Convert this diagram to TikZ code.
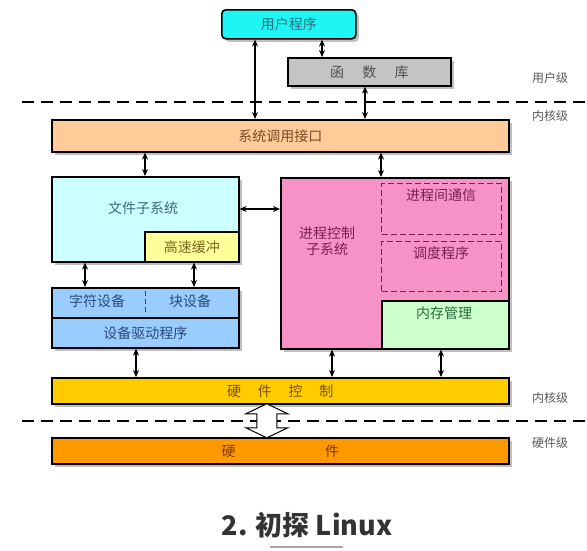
\documentclass[tikz,border=0pt]{standalone}
\usepackage{fontspec}
\setmainfont{Noto Sans CJK SC}
\usepackage{xcolor}
\usetikzlibrary{arrows.meta,shadows,calc}
\definecolor{usercol}{HTML}{1EF5F5}
\definecolor{usertxt}{HTML}{2F6F80}
\definecolor{libcol}{HTML}{C4C4C4}
\definecolor{libtxt}{HTML}{505050}
\definecolor{syscol}{HTML}{FFCC99}
\definecolor{systxt}{HTML}{7A4A2A}
\definecolor{fscol}{HTML}{CCFFFF}
\definecolor{fstxt}{HTML}{3A6A78}
\definecolor{cachecol}{HTML}{FFFF99}
\definecolor{cachetxt}{HTML}{7A6A20}
\definecolor{devcol}{HTML}{99CCFF}
\definecolor{devtxt}{HTML}{2A4A7A}
\definecolor{proccol}{HTML}{F792C6}
\definecolor{proctxt}{HTML}{7A2050}
\definecolor{memcol}{HTML}{CCFFCC}
\definecolor{memtxt}{HTML}{2A6A3A}
\definecolor{hwccol}{HTML}{FFCC00}
\definecolor{hwctxt}{HTML}{7A5000}
\definecolor{hwcol}{HTML}{FF9900}
\definecolor{hwtxt}{HTML}{7A3A00}

\begin{document}
\begin{tikzpicture}[x=1pt, y=-1pt,
  font=\fontsize{14}{16}\selectfont,
  box/.style={draw, line width=1.6pt, inner sep=0pt, anchor=north west},
  shad/.style={drop shadow={shadow xshift=3pt, shadow yshift=-3pt, fill=black!25, opacity=1}},
  sub/.style={draw, line width=1.4pt, dash pattern=on 6pt off 3pt, inner sep=0pt, anchor=north west},
  arr/.style={{Stealth[length=7pt,width=6pt]}-{Stealth[length=7pt,width=6pt]}, line width=1.1pt},
  sep/.style={line width=1.8pt, dash pattern=on 12pt off 7pt},
  lvl/.style={text=black!65, font=\fontsize{12}{14}\selectfont}]
\useasboundingbox (0,0) rectangle (587,550);
% level separators
\draw[sep] (22,102) -- (587,102);
\draw[sep] (22,421) -- (587,421);
\node[lvl] (lvuser) at (550,78) {用户级};
\node[lvl] (lvkern) at (550,116) {内核级};
\node[lvl] (lvkernb) at (550,398) {内核级};
\node[lvl] (lvhw) at (550,443) {硬件级};
% user space
\node[box, shad, rounded corners=4pt, fill=usercol, text=usertxt, minimum width=134, minimum height=29] (user) at (221,9) {用户程序};
\node[box, shad, fill=libcol, text=libtxt, minimum width=163, minimum height=28] (lib) at (287,57) {函\hspace{1.3em}数\hspace{1.3em}库};
% kernel
\node[box, shad, fill=syscol, text=systxt, minimum width=457, minimum height=32] (sys) at (51,119) {系统调用接口};
\node[box, shad, fill=fscol, minimum width=187, minimum height=85] (fs) at (51,176) {};
\node[text=fstxt] (fslbl) at (143,208) {文件子系统};
\node[box, fill=cachecol, text=cachetxt, minimum width=94, minimum height=30] (cache) at (144,231) {高速缓冲};
\node[box, shad, fill=devcol, minimum width=187, minimum height=30] (dev) at (51,287) {};
\node[box, shad, fill=devcol, text=devtxt, minimum width=187, minimum height=30] (drv) at (51,317) {设备驱动程序};
\draw[line width=1.4pt, dash pattern=on 5pt off 3pt, devtxt] ($(dev.north)+(0,4)$) -- ($(dev.south)+(0,-4)$);
\node[text=devtxt] (chr) at (97,301) {字符设备};
\node[text=devtxt] (blk) at (190,301) {块设备};
\node[box, shad, fill=proccol, minimum width=228, minimum height=171] (proc) at (280,177) {};
\node[text=proctxt, align=center] (proclbl) at (327,241) {进程控制\\子系统};
\node[sub, proctxt, minimum width=120, minimum height=51] (ipc) at (381,183) {};
\node[text=proctxt] (ipclbl) at (441,195) {进程间通信};
\node[sub, proctxt, minimum width=120, minimum height=50] (sched) at (381,241) {};
\node[text=proctxt] (schedlbl) at (441,253) {调度程序};
\node[box, fill=memcol, minimum width=127, minimum height=48] (mem) at (381,300) {};
\node[text=memtxt] (memlbl) at (444,313) {内存管理};
\node[box, shad, fill=hwccol, text=hwctxt, minimum width=457, minimum height=26] (hwctl) at (51,377) {硬\hspace{1.2em}件\hspace{1.2em}控\hspace{1.2em}制};
% hardware
\node[box, shad, fill=hwcol, text=hwtxt, minimum width=457, minimum height=26] (hw) at (51,437) {硬\hspace{6.4em}件};
% arrow columns
\coordinate (ua) at (255,0);
\coordinate (ub) at (322,0);
\coordinate (uc) at (365,0);
\coordinate (fa) at (145,0);
\coordinate (pa) at (381,0);
\coordinate (da) at (85,0);
\coordinate (db) at (194,0);
\coordinate (ha) at (136,0);
\coordinate (hb) at (332,0);
\coordinate (hc) at (441,0);
\coordinate (ra) at (0,209);
\draw[arr] (user.south -| ua) -- (sys.north -| ua);
\draw[arr] (user.south -| ub) -- (lib.north -| ub);
\draw[arr] (lib.south -| uc) -- (sys.north -| uc);
\draw[arr] (sys.south -| fa) -- (fs.north -| fa);
\draw[arr] (sys.south -| pa) -- (proc.north -| pa);
\draw[arr] (fs.east |- ra) -- (proc.west |- ra);
\draw[arr] (fs.south -| da) -- (dev.north -| da);
\draw[arr] (cache.south -| db) -- (dev.north -| db);
\draw[arr] (drv.south -| ha) -- (hwctl.north -| ha);
\draw[arr] (proc.south -| hb) -- (hwctl.north -| hb);
\draw[arr] (mem.south -| hc) -- (hwctl.north -| hc);
% hollow double arrow
\coordinate (mid) at ($(hwctl.south)!0.5!(hw.north)+(-13.5,0)$);
\draw[fill=white, line width=1pt] ($(mid)+(0,-17)$) -- ++(21,10) -- ++(-11,0) -- ++(0,14) -- ++(11,0)
  -- ++(-21,10) -- ++(-21,-10) -- ++(11,0) -- ++(0,-14) -- ++(-11,0) -- cycle;
% caption
\node[font=\fontsize{27}{32}\selectfont\bfseries, text=black!80] (title) at (307,525) {2. 初探 Linux};
\draw[line width=2pt, black!35] (270,547) -- (343,547);
\end{tikzpicture}
\end{document}
